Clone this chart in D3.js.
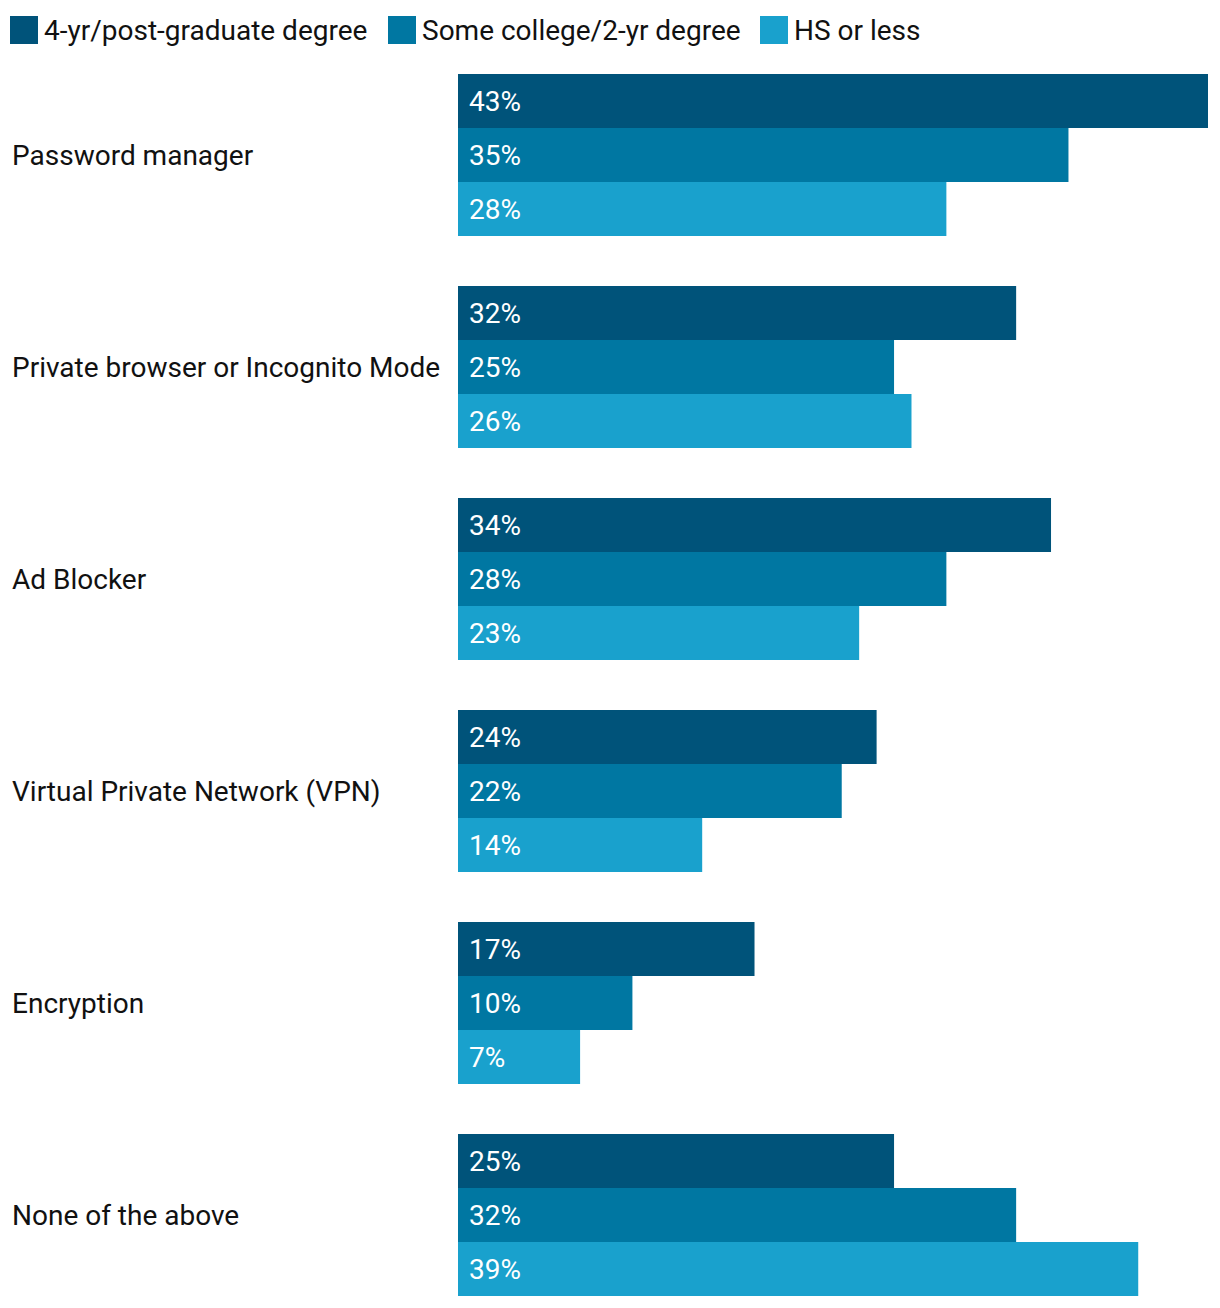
<!DOCTYPE html>
<html><head><meta charset="utf-8">
<script src="https://cdn.jsdelivr.net/npm/d3@7"></script>
<style>body{margin:0;background:#fff;}text{font-family:Roboto,sans-serif;}</style>
</head><body>
<svg id="c" width="1220" height="1308"></svg>
<script>
const categories = ["Password manager","Private browser or Incognito Mode","Ad Blocker","Virtual Private Network (VPN)","Encryption","None of the above"];
const seriesNames = ["4-yr/post-graduate degree","Some college/2-yr degree","HS or less"];
const fourYr = [43,32,34,24,17,25];
const someCollege = [35,25,28,22,10,32];
const hsOrLess = [28,26,23,14,7,39];
const colors = ["#00537a","#0077a2","#19a1cd"];

const series = [fourYr, someCollege, hsOrLess];
const svg = d3.select("#c");
const x = d3.scaleLinear().domain([0,43]).range([458,1208]);
const y0 = d3.scaleBand().domain(categories).range([74,1296]).paddingInner(50/212).paddingOuter(0);
const y1 = d3.scaleBand().domain(seriesNames).range([0,y0.bandwidth()]);

// legend
const legendX = [10,388,760];
const lg = svg.append("g");
seriesNames.forEach((s,i)=>{
  lg.append("rect").attr("x",legendX[i]).attr("y",16).attr("width",28).attr("height",28).attr("fill",colors[i]);
  lg.append("text").attr("x",legendX[i]+34).attr("y",30).attr("dy","0.35em").attr("font-size",28).attr("fill","#111").text(s);
});

categories.forEach((c,ci)=>{
  const g = svg.append("g").attr("transform",`translate(0,${y0(c)})`);
  g.append("text").attr("x",12).attr("y",y0.bandwidth()/2).attr("dy","0.35em").attr("font-size",28).attr("fill","#111").text(c);
  seriesNames.forEach((s,si)=>{
    const v = series[si][ci];
    g.append("rect").attr("x",x(0)).attr("y",y1(s)).attr("width",x(v)-x(0)).attr("height",y1.bandwidth()).attr("fill",colors[si]);
    g.append("text").attr("x",x(0)+11).attr("y",y1(s)+y1.bandwidth()/2).attr("dy","0.35em").attr("font-size",28).attr("fill","#fff").text(v+"%");
  });
});
</script>
</body></html>
